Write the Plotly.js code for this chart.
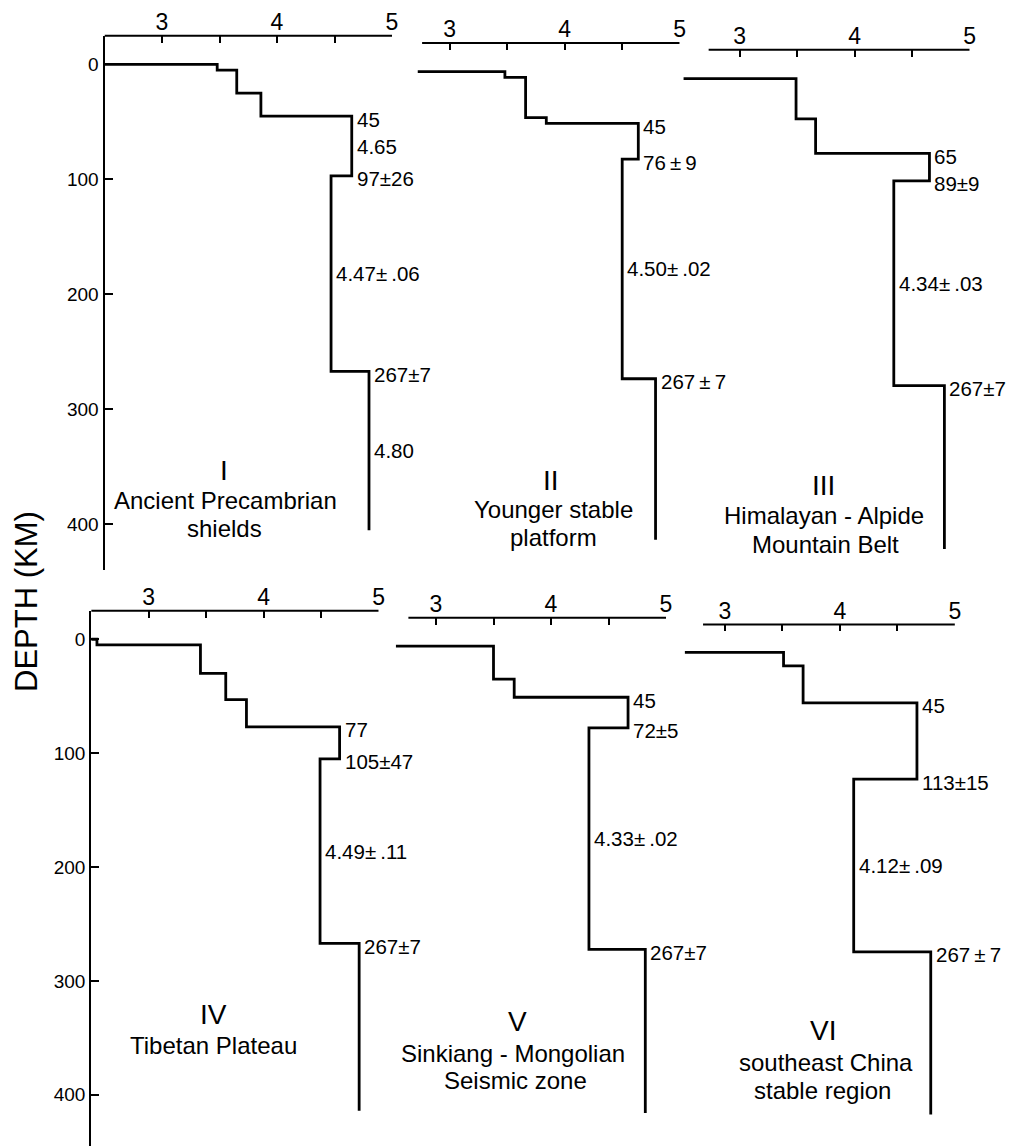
<!DOCTYPE html>
<html>
<head>
<meta charset="utf-8">
<script src="https://cdn.plot.ly/plotly-3.0.1.min.js"></script>
<style>html,body{margin:0;padding:0;background:#fff;}#chart{width:1009px;height:1146px;}</style>
</head>
<body>
<div id="chart"></div>
<script>
// ---------------- DATA (shear velocity km/s vs depth km) ----------------
const panelNumerals = ['I', 'II', 'III', 'IV', 'V', 'VI'];
const panelNames = [
  ['Ancient Precambrian', 'shields'],
  ['Younger stable', 'platform'],
  ['Himalayan - Alpide', 'Mountain Belt'],
  ['Tibetan Plateau'],
  ['Sinkiang - Mongolian', 'Seismic zone'],
  ['southeast China', 'stable region']
];

// surface (starting) velocity of each profile
const startVel = [2.50, 2.72, 2.51, 2.50, 2.65, 2.65];

// layer velocities and layer bottom depths
const vel_I   = [3.48, 3.65, 3.86, 4.65, 4.47, 4.80];
const base_I  = [5, 25, 45, 97, 267, 405];
const vel_II  = [3.48, 3.66, 3.84, 4.64, 4.50, 4.79];
const base_II = [5, 40, 45, 76, 267, 407];
const vel_III  = [3.49, 3.66, 4.65, 4.34, 4.78];
const base_III = [35, 65, 89, 267, 409];
const vel_IV  = [2.55, 3.45, 3.67, 3.85, 4.66, 4.49, 4.83];
const base_IV = [5, 30, 53, 77, 105, 267, 414];
const vel_V  = [3.50, 3.68, 4.67, 4.33, 4.82];
const base_V = [29, 45, 72, 267, 411];
const vel_VI  = [3.51, 3.68, 4.67, 4.12, 4.79];
const base_VI = [12, 45, 113, 267, 412];

// labels at layer boundaries (aligned with base arrays)
const boundText_I   = ['', '', '45', '97±26', '267±7', ''];
const boundText_II  = ['', '', '45', '76\u2009±\u20099', '267\u2009±\u20097', ''];
const boundText_III = ['', '65', '89±9', '267±7', ''];
const boundText_IV  = ['', '', '', '77', '105±47', '267±7', ''];
const boundText_V   = ['', '45', '72±5', '267±7', ''];
const boundText_VI  = ['', '45', '113±15', '267\u2009±\u20097', ''];
// labels beside layers (aligned with vel arrays)
const layerText_I   = ['', '', '', '4.65', '4.47±\u2009.06', '4.80'];
const layerText_II  = ['', '', '', '', '4.50±\u2009.02', ''];
const layerText_III = ['', '', '', '4.34±\u2009.03', ''];
const layerText_IV  = ['', '', '', '', '', '4.49±\u2009.11', ''];
const layerText_V   = ['', '', '', '4.33±\u2009.02', ''];
const layerText_VI  = ['', '', '', '4.12±\u2009.09', ''];

const xTickVals = [3, 3.5, 4, 4.5, 5];
const xTickText = ['3', '', '4', '', '5'];
const yTickVals = [0, 100, 200, 300, 400];
const yTickText = ['0', '100', '200', '300', '400'];

const velSets = [vel_I, vel_II, vel_III, vel_IV, vel_V, vel_VI];
const baseSets = [base_I, base_II, base_III, base_IV, base_V, base_VI];
const boundSets = [boundText_I, boundText_II, boundText_III, boundText_IV, boundText_V, boundText_VI];
const layerSets = [layerText_I, layerText_II, layerText_III, layerText_IV, layerText_V, layerText_VI];

// ---------------- LAYOUT GEOMETRY (pixels) ----------------
const W = 1009, H = 1146;
const PXV = 115; // pixels per km/s
const geom = [
  {px3: 162,   y0: 64.4,  kmpx: 1.15, axStart: 2.50, dBot: 440, left: true},
  {px3: 449.7, y0: 71.7,  kmpx: 1.15, axStart: 2.76, dBot: 440, left: false},
  {px3: 739.7, y0: 78.6,  kmpx: 1.15, axStart: 2.73, dBot: 440, left: false},
  {px3: 148.7, y0: 639.3, kmpx: 1.14, axStart: 2.50, dBot: 445, left: true},
  {px3: 436,   y0: 646.2, kmpx: 1.14, axStart: 2.76, dBot: 440, left: false},
  {px3: 724.9, y0: 652.9, kmpx: 1.14, axStart: 2.81, dBot: 440, left: false}
];
const D_TOP = -25;
const titlePos = [
  [[224, 470], [225, 501], [224, 529]],
  [[551, 480], [553, 510], [553, 537]],
  [[823, 485], [824, 515], [825, 544]],
  [[213, 1014], [213, 1045]],
  [[517, 1021], [513, 1053], [515, 1080]],
  [[823, 1030], [826, 1062], [822, 1090]]
];

const SANS = "'Liberation Sans', Arial, sans-serif";
const px2x = p => p / W;
const py2y = p => 1 - p / H;

const traces = [];
const layout = {
  width: W, height: H,
  margin: {l: 0, r: 0, t: 0, b: 0},
  paper_bgcolor: '#fff', plot_bgcolor: 'rgba(0,0,0,0)',
  showlegend: false,
  annotations: [], shapes: []
};

for (let p = 0; p < 6; p++) {
  const g = geom[p];
  const vel = velSets[p], base = baseSets[p];
  const sfx = p === 0 ? '' : String(p + 1);
  const xa = 'x' + sfx, ya = 'y' + sfx;
  // step profile
  const xs = [startVel[p]], ys = [0];
  for (let i = 0; i < vel.length; i++) {
    xs.push(vel[i]); ys.push(i === 0 ? 0 : base[i - 1]);
    xs.push(vel[i]); ys.push(base[i]);
  }
  traces.push({
    type: 'scatter', mode: 'lines', x: xs, y: ys, xaxis: xa, yaxis: ya,
    line: {color: '#000', width: 2.8, shape: 'linear'}, hoverinfo: 'skip', cliponaxis: false
  });

  const xmin = Math.min(g.axStart, startVel[p]);
  const left = g.px3 + (xmin - 3) * PXV;
  const right = g.px3 + 2 * PXV;
  const top = g.y0 + D_TOP * g.kmpx;
  const bot = g.y0 + g.dBot * g.kmpx;

  layout['xaxis' + sfx] = {
    domain: [px2x(left), px2x(right)], range: [xmin, 5], anchor: ya,
    side: 'top', showline: false, showgrid: false, zeroline: false,
    ticks: 'inside', ticklen: 7, tickwidth: 2, tickcolor: '#000',
    tickvals: xTickVals, ticktext: xTickText,
    tickfont: {family: SANS, size: 23, color: '#000'}, fixedrange: true
  };
  layout['yaxis' + sfx] = {
    domain: [py2y(bot), py2y(top)], range: [g.dBot, D_TOP], anchor: xa,
    visible: g.left, showline: g.left, linewidth: 2, linecolor: '#000',
    showgrid: false, zeroline: false,
    ticks: 'inside', ticklen: 8, tickwidth: 2, tickcolor: '#000',
    tickvals: yTickVals, ticktext: yTickText,
    tickfont: {family: SANS, size: 19, color: '#000'}, fixedrange: true
  };
  // top axis line
  layout.shapes.push({
    type: 'line', xref: xa, yref: ya + ' domain', x0: g.axStart, x1: 5, y0: 1, y1: 1,
    line: {color: '#000', width: 2}
  });

  // boundary labels
  const bt = boundSets[p];
  for (let i = 0; i < base.length; i++) {
    if (!bt[i]) continue;
    const vx = Math.max(vel[i], i + 1 < vel.length ? vel[i + 1] : vel[i]);
    layout.annotations.push({
      xref: xa, yref: ya, x: vx, y: base[i], text: bt[i], showarrow: false,
      xanchor: 'left', yanchor: 'middle', xshift: 3, yshift: -3,
      font: {family: SANS, size: 20.5, color: '#000'}
    });
  }
  // layer velocity labels
  const lt = layerSets[p];
  for (let i = 0; i < vel.length; i++) {
    if (!lt[i]) continue;
    const topD = i === 0 ? 0 : base[i - 1];
    layout.annotations.push({
      xref: xa, yref: ya, x: vel[i], y: (topD + base[i]) / 2, text: lt[i], showarrow: false,
      xanchor: 'left', yanchor: 'middle', xshift: 3,
      font: {family: SANS, size: 20.5, color: '#000'}
    });
  }
  // titles
  const tp = titlePos[p];
  layout.annotations.push({
    xref: 'paper', yref: 'paper', x: px2x(tp[0][0]), y: py2y(tp[0][1]),
    text: panelNumerals[p], showarrow: false, xanchor: 'center', yanchor: 'middle',
    font: {family: SANS, size: 28, color: '#000'}
  });
  for (let k = 0; k < panelNames[p].length; k++) {
    layout.annotations.push({
      xref: 'paper', yref: 'paper', x: px2x(tp[k + 1][0]), y: py2y(tp[k + 1][1]),
      text: panelNames[p][k], showarrow: false, xanchor: 'center', yanchor: 'middle',
      font: {family: SANS, size: 24, color: '#000'}
    });
  }
}

// shared axis title
layout.annotations.push({
  xref: 'paper', yref: 'paper', x: px2x(26), y: py2y(602),
  text: 'DEPTH (KM)', textangle: -90, showarrow: false,
  xanchor: 'center', yanchor: 'middle',
  font: {family: SANS, size: 31, color: '#000'}
});

Plotly.newPlot('chart', traces, layout, {staticPlot: true, displayModeBar: false});
</script>
</body>
</html>
